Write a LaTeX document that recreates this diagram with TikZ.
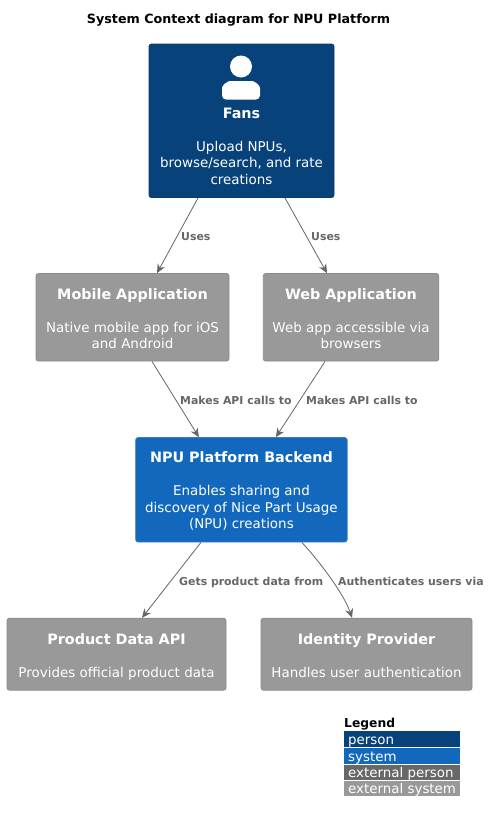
\documentclass[tikz,border=0pt]{standalone}
\usepackage{fontspec}
\setmainfont{DejaVu Sans}
\usetikzlibrary{arrows.meta}
\definecolor{personbg}{HTML}{08427B}
\definecolor{personbd}{HTML}{073B6F}
\definecolor{systembg}{HTML}{1168BD}
\definecolor{systembd}{HTML}{3C7FC0}
\definecolor{extbg}{HTML}{999999}
\definecolor{extbd}{HTML}{8A8A8A}
\definecolor{extpersonbg}{HTML}{686868}
\definecolor{linkcol}{HTML}{666666}
\newcommand{\boxtitle}[2][17pt]{\rule{0pt}{#1}{\fontsize{14.35}{16.5}\selectfont\bfseries #2}\\[16.5pt]}
\newcommand{\lastdepth}{\rule[-4pt]{0pt}{4pt}}
\tikzset{
  x=1pt,y=1pt,
  c4box/.style={rectangle,rounded corners=2.5pt,line width=0.8pt,text=white,align=center,inner sep=0pt,
    font=\fontsize{13.45}{16.5}\selectfont},
  personbox/.style={c4box,fill=personbg,draw=personbd},
  systembox/.style={c4box,fill=systembg,draw=systembd},
  extbox/.style={c4box,fill=extbg,draw=extbd},
  link/.style={draw=linkcol,line width=0.8pt,-{Stealth[length=9pt,width=8pt]}},
  linklabel/.style={text=linkcol,anchor=base west,inner sep=0pt,font=\fontsize{10.9}{14}\selectfont\bfseries},
  legendrow/.style={anchor=north west,minimum width=116pt,minimum height=15.5pt,inner sep=0pt,text=white},
  legendtext/.style={anchor=base west,inner sep=0pt,text=white,font=\fontsize{13.4}{16}\selectfont},
}
\begin{document}
\begin{tikzpicture}
\useasboundingbox (0,0) rectangle (490,-822);
\fill[white] (0,0) rectangle (490,-822);
\node[anchor=base,inner sep=0pt,font=\fontsize{12.7}{15}\selectfont\bfseries] (title) at (238.5,-23.3) {System Context diagram for NPU Platform};

\node[personbox,minimum width=185pt,minimum height=153.5pt] (fans) at (241.5,-120.8)
  {\boxtitle[65pt]{Fans}Upload NPUs,\\browse/search, and rate\\creations\lastdepth};
\fill[white] (241,-66.5) circle[radius=11];
\fill[white,rounded corners=4pt] (222,-99.5) -- (222,-92) .. controls (222,-85) and (228,-81) .. (234,-81) -- (248,-81) .. controls (254,-81) and (260,-85) .. (260,-92) -- (260,-99.5) -- cycle;

\node[extbox,minimum width=193pt,minimum height=87.5pt] (mobile) at (132.5,-317.3)
  {\boxtitle{Mobile Application}Native mobile app for iOS\\and Android\lastdepth};
\node[extbox,minimum width=175.5pt,minimum height=87.5pt] (web) at (351,-317.3)
  {\boxtitle{Web Application}Web app accessible via\\browsers\lastdepth};
\node[systembox,minimum width=211.5pt,minimum height=104.5pt] (backend) at (241.4,-489.8)
  {\boxtitle[16pt]{NPU Platform Backend}Enables sharing and\\discovery of Nice Part Usage\\(NPU) creations\lastdepth};
\node[extbox,minimum width=219pt,minimum height=72pt] (product) at (116.5,-654.2)
  {\boxtitle{Product Data API}Provides official product data\lastdepth};
\node[extbox,minimum width=211pt,minimum height=72pt] (identity) at (366.5,-654.2)
  {\boxtitle{Identity Provider}Handles user authentication\lastdepth};

\draw[link] ([xshift=-43.5pt]fans.south) -- ([xshift=24.5pt]mobile.north);
\draw[link] ([xshift=43.5pt]fans.south) -- ([xshift=-24pt]web.north);
\draw[link] ([xshift=19.5pt]mobile.south) -- ([xshift=-42.5pt]backend.north);
\draw[link] ([xshift=-26pt]web.south) -- ([xshift=34.5pt]backend.north);
\draw[link] ([xshift=-40.5pt]backend.south) -- ([xshift=25.5pt]product.north);
\draw[link] ([xshift=60.5pt]backend.south) .. controls +(16,-17) and +(-8,24) .. ([xshift=-14.5pt]identity.north);

\node[linklabel] (l1) at (181,-240) {Uses};
\node[linklabel] (l2) at (311,-240) {Uses};
\node[linklabel] (l3) at (180,-404) {Makes API calls to};
\node[linklabel] (l4) at (306,-404) {Makes API calls to};
\node[linklabel] (l5) at (179,-585) {Gets product data from};
\node[linklabel] (l6) at (338,-585) {Authenticates users via};

\node[anchor=base west,inner sep=0pt,font=\fontsize{12.3}{16}\selectfont\bfseries] (legend) at (344,-727.7) {Legend};
\node[legendrow,fill=personbg] (lg1) at (344,-731) {};
\node[legendrow,fill=systembg] (lg2) at (344,-748) {};
\node[legendrow,fill=extpersonbg] (lg3) at (344,-764.5) {};
\node[legendrow,fill=extbg] (lg4) at (344,-780.5) {};
\node[legendtext] (lt1) at (348,-744) {person};
\node[legendtext] (lt2) at (348,-761) {system};
\node[legendtext] (lt3) at (348,-777) {external person};
\node[legendtext] (lt4) at (348,-793) {external system};
\end{tikzpicture}
\end{document}
